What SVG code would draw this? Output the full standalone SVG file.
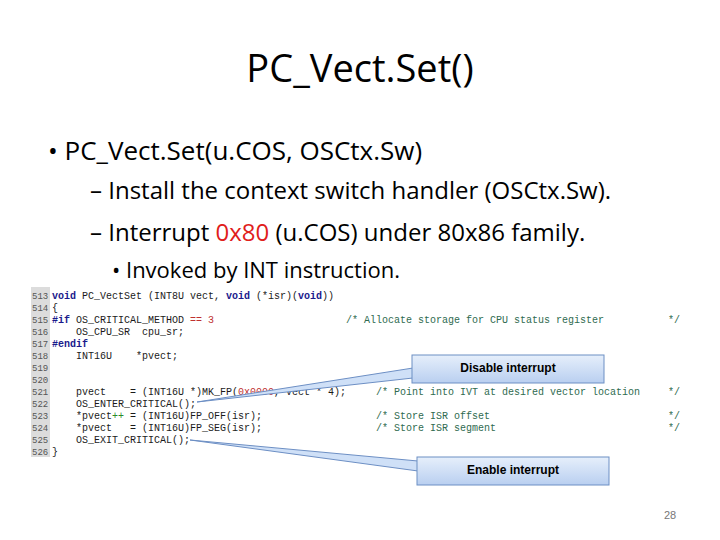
<svg xmlns="http://www.w3.org/2000/svg" width="720" height="540" viewBox="0 0 720 540">
<style>
.t{font-family:"Open Sans","Liberation Sans",sans-serif;fill:#000}
.c{font-family:"Liberation Mono",monospace;font-size:10px;fill:#1a1a1a;white-space:pre}
.n{font-family:"Liberation Mono",monospace;font-size:9px;fill:#555}
.k{fill:#1a1a8c;font-weight:bold}
.cm{fill:#2f6b50}
.call{fill:#cfe0f7;stroke:#6d8fc4;stroke-width:1}
.cl{font-family:"Liberation Sans",sans-serif;font-size:12px;font-weight:bold;fill:#000}
</style>
<defs><linearGradient id="g" x1="0" y1="0" x2="0" y2="1"><stop offset="0" stop-color="#e6effb"/><stop offset="1" stop-color="#b9cff0"/></linearGradient></defs>
<rect width="720" height="540" fill="#fff"/>
<text class="t" x="360" y="82" font-size="38" text-anchor="middle">PC_Vect.Set()</text>
<text class="t" x="48" y="160" font-size="26">• PC_Vect.Set(u.COS, OSCtx.Sw)</text>
<text class="t" x="90" y="199" font-size="24">– Install the context switch handler (OSCtx.Sw).</text>
<text class="t" x="90" y="241" font-size="24">– Interrupt <tspan fill="#e0201b">0x80</tspan> (u.COS) under 80x86 family.</text>
<text class="t" x="112" y="278" font-size="22">• Invoked by INT instruction.</text>
<g id="code">
<rect x="31" y="287" width="19" height="170" fill="#dcdcdc"/>
<text class="n" x="32" y="299">513</text><text class="c" x="52" y="299"><tspan class="k">void</tspan> PC_VectSet (INT8U vect, <tspan class="k">void</tspan> (*isr)(<tspan class="k">void</tspan>))</text>
<text class="n" x="32" y="311">514</text><text class="c" x="52" y="311">{</text>
<text class="n" x="32" y="323">515</text><text class="c" x="52" y="323"><tspan class="k">#if</tspan> OS_CRITICAL_METHOD <tspan fill="#c03030">== 3</tspan></text><text class="c cm" x="346" y="323">/* Allocate storage for CPU status register</text><text class="c cm" x="668" y="323">*/</text>
<text class="n" x="32" y="335">516</text><text class="c" x="52" y="335">    OS_CPU_SR  cpu_sr;</text>
<text class="n" x="32" y="347">517</text><text class="c" x="52" y="347"><tspan class="k">#endif</tspan></text>
<text class="n" x="32" y="359">518</text><text class="c" x="52" y="359">    INT16U    *pvect;</text>
<text class="n" x="32" y="371">519</text>
<text class="n" x="32" y="383">520</text>
<text class="n" x="32" y="395">521</text><text class="c" x="52" y="395">    pvect    = (INT16U *)MK_FP(<tspan fill="#c03030">0x0000</tspan>, vect * 4);</text><text class="c cm" x="376" y="395">/* Point into IVT at desired vector location</text><text class="c cm" x="668" y="395">*/</text>
<text class="n" x="32" y="407">522</text><text class="c" x="52" y="407">    OS_ENTER_CRITICAL();</text>
<text class="n" x="32" y="419">523</text><text class="c" x="52" y="419">    *pvect<tspan fill="#2a8a2a">++</tspan> = (INT16U)FP_OFF(isr);</text><text class="c cm" x="376" y="419">/* Store ISR offset</text><text class="c cm" x="668" y="419">*/</text>
<text class="n" x="32" y="431">524</text><text class="c" x="52" y="431">    *pvect   = (INT16U)FP_SEG(isr);</text><text class="c cm" x="376" y="431">/* Store ISR segment</text><text class="c cm" x="668" y="431">*/</text>
<text class="n" x="32" y="443">525</text><text class="c" x="52" y="443">    OS_EXIT_CRITICAL();</text>
<text class="n" x="32" y="455">526</text><text class="c" x="52" y="455">}</text>
</g>
<g id="connectors">
<polygon class="call" points="197,402 413,368 413,378"/>
<polygon class="call" points="190,440 418,461 418,471"/>
</g>
<g id="disable"><rect x="412" y="355" width="192" height="28" fill="url(#g)" stroke="#6d8fc4"/><text class="cl" x="508" y="372" text-anchor="middle">Disable interrupt</text></g>
<g id="enable"><rect x="417" y="457" width="192" height="28" fill="url(#g)" stroke="#6d8fc4"/><text class="cl" x="513" y="474" text-anchor="middle">Enable interrupt</text></g>
<text x="670" y="519" font-family="Liberation Sans,sans-serif" font-size="11" fill="#777" text-anchor="middle">28</text>
</svg>
